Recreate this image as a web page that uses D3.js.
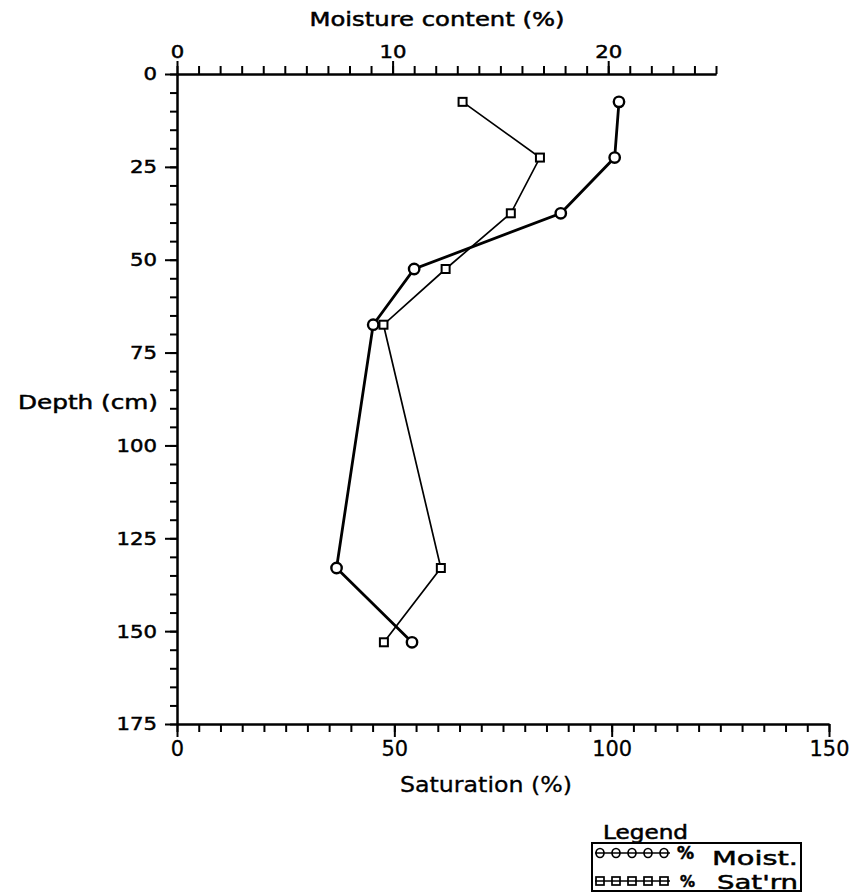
<!DOCTYPE html>
<html>
<head>
<meta charset="utf-8">
<script src="https://cdn.jsdelivr.net/npm/d3@7"></script>
<style>
  body { margin: 0; background: #fff; }
  svg { display: block; background: #fff; font-family: 'DejaVu Sans', sans-serif; }
  svg text { stroke: #000; stroke-width: 0.5px; }
  .axis path, .axis line { stroke: #000; stroke-width: 2; }
  .axis text { fill: #000; font-family: 'DejaVu Sans', sans-serif; font-size: 18.5px; }
  .axis--bottom text { font-size: 21px; stroke-width: 0.3px; }
  .title { fill: #000; font-size: 19.5px; }
</style>
</head>
<body>
<svg id="chart" width="868" height="894"></svg>
<script>
// depth of each sample (cm), moisture content (%) and saturation (%)
const depth = [7.5, 22.5, 37.5, 52.5, 67.5, 133, 153]
const moisture = [20.5, 20.3, 17.8, 11.0, 9.1, 7.4, 10.9]
const saturation = [65.7, 83.5, 76.8, 61.8, 47.5, 60.7, 47.6]

const depthTicks = [0, 25, 50, 75, 100, 125, 150, 175]
const moistTicks = [0, 10, 20]
const satTicks = [0, 50, 100, 150]
const legendLabels = ['Moist.', "Sat'rn"]

const $svg = d3.select('#chart')

const PLOT = {
  top: 74,
  bottom: 724,
  left: 177,
  right: 829,    // end of the saturation axis
  moistEnd: 716  // end of the moisture axis
}

const yScale = d3.scaleLinear().domain([0, 175]).range([PLOT.top, PLOT.bottom])
const xSat = d3.scaleLinear().domain([0, 150]).range([PLOT.left, PLOT.right])
const xMoist = d3.scaleLinear().domain([0, 25]).range([PLOT.left, PLOT.moistEnd])

const rows = depth.map((d, i) => ({depth: d, moist: moisture[i], sat: saturation[i]}))

// plotter lettering is wide, so stretch glyphs to a width per character
function widen($text, perChar){
  $text
    .attr('textLength', function(){ return this.textContent.length * perChar })
    .attr('lengthAdjust', 'spacingAndGlyphs')
}

function drawAxis(axisFn, scale, step, majors, tx, ty, cls, minorSize, majorSize, pad){
  const [lo, hi] = scale.domain()
  const $g = $svg.append('g')
    .attr('class', `axis ${cls}`)
    .attr('transform', `translate(${tx}, ${ty})`)
  $g.append('g')
    .call(axisFn(scale)
      .tickValues(d3.range(lo, hi + step / 2, step))
      .tickSize(minorSize)
      .tickSizeOuter(0)
      .tickFormat(''))
  $g.append('g')
    .call(axisFn(scale)
      .tickValues(majors)
      .tickSize(majorSize)
      .tickSizeOuter(0)
      .tickPadding(pad)
      .tickFormat(d3.format('d')))
  return $g
}

// axes
const $left = drawAxis(d3.axisLeft, yScale, 5, depthTicks, PLOT.left, 0, 'axis--left', 7, 12, 8)
const $top = drawAxis(d3.axisTop, xMoist, 1, moistTicks, 0, PLOT.top, 'axis--top', 8, 13, 3)
const $bottom = drawAxis(d3.axisBottom, xSat, 5, satTicks, 0, PLOT.bottom, 'axis--bottom', 8, 13, 4)
widen($left.selectAll('text'), 13.5)
widen($top.selectAll('text'), 13.5)
widen($bottom.selectAll('text'), 13.3)

// axis titles
$svg.append('text')
  .attr('class', 'title')
  .attr('x', 437).attr('y', 26)
  .attr('text-anchor', 'middle')
  .attr('textLength', 255)
  .attr('lengthAdjust', 'spacingAndGlyphs')
  .text('Moisture content (%)')
$svg.append('text')
  .attr('class', 'title')
  .attr('x', 18).attr('y', 409)
  .attr('textLength', 140)
  .attr('lengthAdjust', 'spacingAndGlyphs')
  .text('Depth (cm)')
$svg.append('text')
  .attr('class', 'title')
  .attr('x', 486).attr('y', 792)
  .attr('text-anchor', 'middle')
  .attr('textLength', 172)
  .attr('lengthAdjust', 'spacingAndGlyphs')
  .style('font-size', '21px')
  .style('stroke-width', '0.3px')
  .text('Saturation (%)')

// saturation series (thin line, squares)
const satLine = d3.line().x(d => xSat(d.sat)).y(d => yScale(d.depth))
$svg.append('path')
  .datum(rows)
  .attr('d', satLine)
  .attr('fill', 'none')
  .attr('stroke', '#000')
  .attr('stroke-width', 1.7)

// moisture series (thick line, circles)
const moistLine = d3.line().x(d => xMoist(d.moist)).y(d => yScale(d.depth))
$svg.append('path')
  .datum(rows)
  .attr('d', moistLine)
  .attr('fill', 'none')
  .attr('stroke', '#000')
  .attr('stroke-width', 2.8)

$svg.selectAll('.sat-point')
  .data(rows)
  .enter()
  .append('rect')
    .attr('class', 'sat-point')
    .attr('x', d => xSat(d.sat) - 4)
    .attr('y', d => yScale(d.depth) - 4)
    .attr('width', 8)
    .attr('height', 8)
    .attr('fill', '#fff')
    .attr('stroke', '#000')
    .attr('stroke-width', 2)

$svg.selectAll('.moist-point')
  .data(rows)
  .enter()
  .append('circle')
    .attr('class', 'moist-point')
    .attr('cx', d => xMoist(d.moist))
    .attr('cy', d => yScale(d.depth))
    .attr('r', 5.2)
    .attr('fill', '#fff')
    .attr('stroke', '#000')
    .attr('stroke-width', 2.4)

// legend
const $legend = $svg.append('g').attr('class', 'legend')
$legend.append('text')
  .attr('class', 'title')
  .attr('x', 603).attr('y', 839)
  .attr('textLength', 85)
  .attr('lengthAdjust', 'spacingAndGlyphs')
  .style('font-size', '19px')
  .text('Legend')
$legend.append('rect')
  .attr('x', 592).attr('y', 843)
  .attr('width', 209).attr('height', 48)
  .attr('fill', 'none')
  .attr('stroke', '#000')
  .attr('stroke-width', 2)

const rowY = [853, 881]
const symX = d3.range(5).map(i => 600 + i * 16)
legendLabels.forEach((label, i) => {
  const cy = rowY[i]
  $legend.append('line')
    .attr('x1', 595).attr('x2', 670)
    .attr('y1', cy).attr('y2', cy)
    .attr('stroke', '#000').attr('stroke-width', 1.6)
  if (i === 0) {
    $legend.selectAll('.leg-c')
      .data(symX).enter().append('ellipse')
        .attr('cx', d => d).attr('cy', cy)
        .attr('rx', 4).attr('ry', 4.5)
        .attr('fill', 'none').attr('stroke', '#000').attr('stroke-width', 1.7)
  } else {
    $legend.selectAll('.leg-s')
      .data(symX).enter().append('rect')
        .attr('x', d => d - 4).attr('y', cy - 4)
        .attr('width', 8).attr('height', 8)
        .attr('fill', 'none').attr('stroke', '#000').attr('stroke-width', 1.7)
  }
  $legend.append('text')
    .attr('x', i === 0 ? 677 : 680).attr('y', cy + 6)
    .style('font-size', i === 0 ? '17px' : '15px')
    .style('font-weight', 'bold')
    .text('%')
  $legend.append('text')
    .attr('class', 'title')
    .attr('x', i === 0 ? 712 : 717).attr('y', i === 0 ? 865 : 889)
    .attr('textLength', i === 0 ? 86 : 81)
    .attr('lengthAdjust', 'spacingAndGlyphs')
    .style('font-size', '20px')
    .text(label)
})
</script>
</body>
</html>
